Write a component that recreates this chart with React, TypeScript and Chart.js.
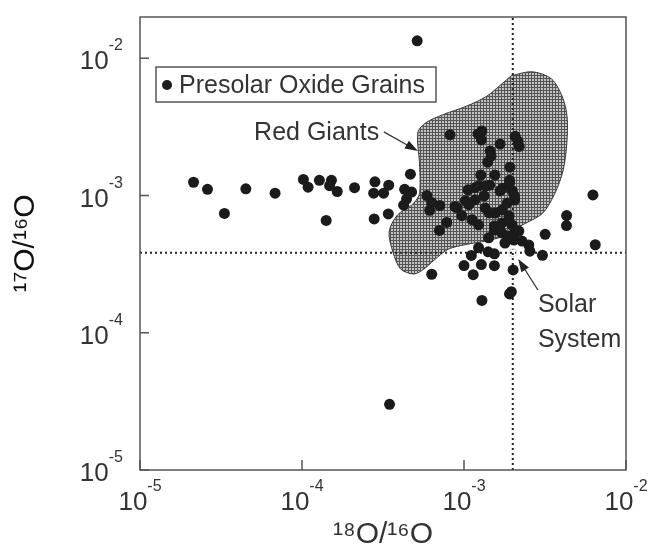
import React, { useEffect, useRef } from 'react';
import { Chart, registerables } from 'chart.js';

Chart.register(...registerables);

// ---- axis ranges & ticks ----
const X_MIN = 1e-5;
const X_MAX = 1e-2;
const Y_MIN = 1e-5;
const Y_MAX = 0.02;
const X_TICKS = [1e-5, 1e-4, 1e-3, 1e-2];
const Y_TICKS = [1e-5, 1e-4, 1e-3, 1e-2];
const TICK_BASE = '10';
const X_TICK_EXPONENTS = ['-5', '-4', '-3', '-2'];
const Y_TICK_EXPONENTS = ['-5', '-4', '-3', '-2'];

const X_TITLE = '¹⁸O/¹⁶O';
const Y_TITLE = '¹⁷O/¹⁶O';
const SERIES_LABEL = 'Presolar Oxide Grains';
const REGION_LABEL = 'Red Giants';
const SOLAR_LABEL_LINES = ['Solar', 'System'];

// ---- presolar oxide grains: 18O/16O and 17O/16O ----
const GRAIN_O18 = [
  2.14e-5, 2.61e-5, 3.32e-5, 4.5e-5, 6.82e-5, 1.02e-4, 1.09e-4, 1.28e-4, 1.52e-4, 1.48e-4,
  1.65e-4, 1.41e-4, 2.11e-4, 2.82e-4, 3.43e-4, 2.77e-4, 3.19e-4, 4.3e-4, 4.75e-4, 4.42e-4,
  4.24e-4, 4.67e-4, 2.79e-4, 3.41e-4, 5.14e-4, 3.47e-4, 6.32e-4, 8.2e-4, 1.22e-3, 1.28e-3,
  1.29e-3, 1.67e-3, 2.07e-3, 2.16e-3, 2.19e-3, 1.45e-3, 1.47e-3, 1.4e-3, 1.92e-3, 1.27e-3,
  1.55e-3, 1.91e-3, 1.24e-3, 1.44e-3, 1.73e-3, 1.91e-3, 1.99e-3, 2.05e-3, 5.9e-4, 6.32e-4,
  6.14e-4, 7.1e-4, 8.79e-4, 1.07e-3, 1.17e-3, 1.02e-3, 9.02e-4, 7.82e-4, 7.05e-4, 9.7e-4,
  1.12e-3, 1.23e-3, 1.43e-3, 1.56e-3, 1.72e-3, 1.9e-3, 1.54e-3, 1.71e-3, 1.89e-3, 1.79e-3,
  2.03e-3, 2.06e-3, 2.28e-3, 2.18e-3, 1.54e-3, 1.17e-3, 1.36e-3, 1.67e-3, 2.05e-3, 6.25e-3,
  4.3e-3, 4.29e-3, 3.17e-3, 6.46e-3, 2.51e-3, 2.55e-3, 3.05e-3, 1.23e-3, 1.41e-3, 1.54e-3,
  1.11e-3, 1.0e-3, 1.28e-3, 1.54e-3, 1.14e-3, 2.01e-3, 1.29e-3, 1.91e-3, 1.96e-3, 1.35e-3,
  1.85e-3, 1.42e-3, 1.72e-3, 1.98e-3, 1.33e-3, 1.06e-3,
];
const GRAIN_O17 = [
  1.25e-3, 1.11e-3, 7.4e-4, 1.12e-3, 1.04e-3, 1.31e-3, 1.15e-3, 1.29e-3, 1.29e-3, 1.18e-3,
  1.07e-3, 6.59e-4, 1.14e-3, 1.26e-3, 1.19e-3, 1.04e-3, 1.04e-3, 1.11e-3, 1.06e-3, 9.42e-4,
  8.51e-4, 1.43e-3, 6.76e-4, 7.34e-4, 1.34e-2, 3.01e-5, 2.67e-4, 2.77e-3, 2.81e-3, 2.54e-3,
  2.95e-3, 2.37e-3, 2.7e-3, 2.48e-3, 2.28e-3, 2.11e-3, 1.94e-3, 1.75e-3, 1.61e-3, 1.41e-3,
  1.41e-3, 1.29e-3, 1.18e-3, 1.19e-3, 1.13e-3, 1.23e-3, 1.08e-3, 9.27e-4, 1.0e-3, 8.91e-4,
  7.8e-4, 8.46e-4, 8.3e-4, 8.58e-4, 9.31e-4, 9.17e-4, 8.17e-4, 6.37e-4, 5.57e-4, 7.13e-4,
  6.67e-4, 6.12e-4, 7.48e-4, 7.46e-4, 7.85e-4, 7.08e-4, 5.61e-4, 5.34e-4, 5.07e-4, 4.51e-4,
  4.74e-4, 5.32e-4, 4.66e-4, 5.51e-4, 6.01e-4, 1.14e-3, 1.17e-3, 1.08e-3, 9.9e-4, 1.01e-3,
  7.15e-4, 6.04e-4, 5.22e-4, 4.38e-4, 4.36e-4, 3.93e-4, 3.67e-4, 4.17e-4, 3.89e-4, 3.76e-4,
  3.66e-4, 3.09e-4, 3.14e-4, 3.08e-4, 2.65e-4, 2.87e-4, 1.72e-4, 1.92e-4, 1.99e-4, 8.13e-4,
  8.81e-4, 4.92e-4, 6.31e-4, 6.1e-4, 9.93e-4, 1.1e-3,
];

// ---- red giant region outline ----
const RED_GIANT_O18 = [
  1.96e-3, 2.64e-3, 3.47e-3, 4.05e-3, 4.33e-3, 4.31e-3, 4.09e-3, 3.63e-3, 3.05e-3, 2.28e-3,
  1.84e-3, 1.38e-3, 1.03e-3, 7.98e-4, 6.53e-4, 5.65e-4, 4.91e-4, 4.06e-4, 3.64e-4, 3.45e-4,
  3.88e-4, 4.75e-4, 5.27e-4, 5.36e-4, 5.31e-4, 5.19e-4, 5.83e-4, 7.35e-4, 1.04e-3, 1.38e-3,
  1.72e-3, 1.96e-3,
];
const RED_GIANT_O17 = [
  7.48e-3, 7.98e-3, 7.08e-3, 5.23e-3, 3.74e-3, 2.38e-3, 1.52e-3, 1.03e-3, 7.41e-4, 6.08e-4,
  5.15e-4, 4.68e-4, 4.4e-4, 4.06e-4, 3.38e-4, 2.91e-4, 2.68e-4, 2.92e-4, 3.88e-4, 5.43e-4,
  7.21e-4, 8.51e-4, 1.0e-3, 1.25e-3, 1.74e-3, 2.88e-3, 3.4e-3, 3.87e-3, 4.49e-3, 5.29e-3,
  6.54e-3, 7.48e-3,
];

// ---- solar system composition ----
const SOLAR_O18 = 2.0e-3;
const SOLAR_O17 = 3.83e-4;

// ---- annotation anchors (data space) ----
const RED_GIANTS_TEXT_AT = { x: 5.06e-5, y: 2.54e-3 };
const RED_GIANTS_ARROW = { from: { x: 3.2e-4, y: 2.91e-3 }, to: { x: 5.2e-4, y: 2.11e-3 } };
const SOLAR_TEXT_AT = [{ x: 2.86e-3, y: 1.42e-4 }, { x: 2.86e-3, y: 7.87e-5 }];
const SOLAR_ARROW = { from: { x: 2.86e-3, y: 2.05e-4 }, to: { x: 2.16e-3, y: 3.45e-4 } };

const FONT = "'Liberation Sans', Arial, 'DejaVu Sans', sans-serif";
const TEXT_COLOR = '#333333';
const DOT_COLOR = '#1b1b1b';

function drawArrow(ctx: CanvasRenderingContext2D, x1: number, y1: number, x2: number, y2: number) {
  const a = Math.atan2(y2 - y1, x2 - x1);
  const len = 13;
  const hw = 4.5;
  ctx.beginPath();
  ctx.moveTo(x1, y1);
  ctx.lineTo(x2 - Math.cos(a) * len * 0.8, y2 - Math.sin(a) * len * 0.8);
  ctx.stroke();
  ctx.beginPath();
  ctx.moveTo(x2, y2);
  ctx.lineTo(x2 - Math.cos(a) * len - Math.sin(a) * hw, y2 - Math.sin(a) * len + Math.cos(a) * hw);
  ctx.lineTo(x2 - Math.cos(a) * len + Math.sin(a) * hw, y2 - Math.sin(a) * len - Math.cos(a) * hw);
  ctx.closePath();
  ctx.fill();
}

const BASE_FONT = `26px ${FONT}`;
const EXP_FONT = `16px ${FONT}`;

const decorPlugin = {
  id: 'decor',
  afterDraw(chart: any) {
    const { ctx, chartArea, scales } = chart;
    const xs = scales.x;
    const ys = scales.y;
    const { left, top, right, bottom } = chartArea;
    ctx.save();
    // frame
    ctx.strokeStyle = '#555';
    ctx.lineWidth = 1.5;
    ctx.strokeRect(left, top, right - left, bottom - top);
    // inward tick marks
    ctx.beginPath();
    X_TICKS.forEach((v) => {
      const px = xs.getPixelForValue(v);
      ctx.moveTo(px, bottom);
      ctx.lineTo(px, bottom - 10);
    });
    Y_TICKS.forEach((v) => {
      const py = ys.getPixelForValue(v);
      ctx.moveTo(left, py);
      ctx.lineTo(left + 9, py);
    });
    ctx.stroke();

    // tick labels: 10 with superscript exponent
    ctx.fillStyle = TEXT_COLOR;
    ctx.textAlign = 'left';
    ctx.textBaseline = 'alphabetic';
    ctx.font = BASE_FONT;
    const wb = ctx.measureText(TICK_BASE).width;
    X_TICKS.forEach((v, i) => {
      const px = xs.getPixelForValue(v);
      ctx.font = EXP_FONT;
      const we = ctx.measureText(X_TICK_EXPONENTS[i]).width;
      const x0 = px - (wb + we) / 2;
      ctx.font = BASE_FONT;
      ctx.fillText(TICK_BASE, x0, bottom + 40);
      ctx.font = EXP_FONT;
      ctx.fillText(X_TICK_EXPONENTS[i], x0 + wb, bottom + 21);
    });
    Y_TICKS.forEach((v, i) => {
      const py = ys.getPixelForValue(v);
      ctx.font = EXP_FONT;
      const we = ctx.measureText(Y_TICK_EXPONENTS[i]).width;
      const x0 = left - 17 - (wb + we);
      ctx.font = BASE_FONT;
      ctx.fillText(TICK_BASE, x0, py + 11);
      ctx.font = EXP_FONT;
      ctx.fillText(Y_TICK_EXPONENTS[i], x0 + wb, py - 8);
    });

    // legend box
    const lx = left + 16;
    const ly = top + 50;
    ctx.strokeStyle = '#555';
    ctx.lineWidth = 1.5;
    ctx.strokeRect(lx, ly, 280, 35);
    ctx.fillStyle = DOT_COLOR;
    ctx.beginPath();
    ctx.arc(lx + 11, ly + 18, 5, 0, Math.PI * 2);
    ctx.fill();
    ctx.fillStyle = TEXT_COLOR;
    ctx.font = `25px ${FONT}`;
    ctx.fillText(chart.data.datasets[0].label, lx + 23, ly + 26);

    // Red Giants label + arrow
    ctx.fillText(REGION_LABEL, xs.getPixelForValue(RED_GIANTS_TEXT_AT.x), ys.getPixelForValue(RED_GIANTS_TEXT_AT.y));
    ctx.strokeStyle = '#333';
    ctx.fillStyle = '#222';
    ctx.lineWidth = 1.3;
    drawArrow(
      ctx,
      xs.getPixelForValue(RED_GIANTS_ARROW.from.x), ys.getPixelForValue(RED_GIANTS_ARROW.from.y),
      xs.getPixelForValue(RED_GIANTS_ARROW.to.x), ys.getPixelForValue(RED_GIANTS_ARROW.to.y)
    );

    // Solar System label + arrow
    ctx.fillStyle = TEXT_COLOR;
    SOLAR_LABEL_LINES.forEach((t, i) => {
      ctx.fillText(t, xs.getPixelForValue(SOLAR_TEXT_AT[i].x), ys.getPixelForValue(SOLAR_TEXT_AT[i].y));
    });
    ctx.fillStyle = '#222';
    drawArrow(
      ctx,
      xs.getPixelForValue(SOLAR_ARROW.from.x), ys.getPixelForValue(SOLAR_ARROW.from.y),
      xs.getPixelForValue(SOLAR_ARROW.to.x), ys.getPixelForValue(SOLAR_ARROW.to.y)
    );
    ctx.restore();
  },
};

function makeHatch(target: HTMLCanvasElement): CanvasPattern | string {
  const c = document.createElement('canvas');
  c.width = 3;
  c.height = 3;
  const g = c.getContext('2d');
  const tctx = target.getContext('2d');
  if (!g || !tctx) return '#909090';
  g.fillStyle = '#c2c2c2';
  g.fillRect(0, 0, 3, 3);
  g.fillStyle = '#555555';
  g.fillRect(0, 0, 3, 1);
  g.fillRect(0, 0, 1, 3);
  return tctx.createPattern(c, 'repeat') || '#909090';
}

export default function App() {
  const ref = useRef<HTMLCanvasElement>(null);

  useEffect(() => {
    const canvas = ref.current;
    if (!canvas) return;
    const hatch = makeHatch(canvas);

    const chart = new Chart(canvas, {
      type: 'scatter',
      data: {
        datasets: [
          {
            label: SERIES_LABEL,
            data: GRAIN_O18.map((x, i) => ({ x, y: GRAIN_O17[i] })),
            backgroundColor: DOT_COLOR,
            borderColor: DOT_COLOR,
            borderWidth: 0,
            pointRadius: 5.5,
            order: 0,
          },
          {
            label: 'Solar System',
            data: [{ x: SOLAR_O18, y: SOLAR_O17 }],
            backgroundColor: 'rgba(255,255,255,0)',
            borderColor: '#e4e4e4',
            borderWidth: 1.5,
            pointRadius: 4,
            order: -1,
          },
          {
            label: 'solar 17O',
            data: [{ x: X_MIN, y: SOLAR_O17 }, { x: X_MAX, y: SOLAR_O17 }],
            showLine: true,
            borderColor: '#222',
            borderWidth: 2,
            borderDash: [2, 3],
            pointRadius: 0,
            fill: false,
            order: 1,
          },
          {
            label: 'solar 18O',
            data: [{ x: SOLAR_O18, y: Y_MIN }, { x: SOLAR_O18, y: Y_MAX }],
            showLine: true,
            borderColor: '#222',
            borderWidth: 2,
            borderDash: [2, 3],
            pointRadius: 0,
            fill: false,
            order: 1,
          },
          {
            label: REGION_LABEL,
            data: RED_GIANT_O18.map((x, i) => ({ x, y: RED_GIANT_O17[i] })),
            showLine: true,
            fill: 'shape',
            backgroundColor: hatch as any,
            borderColor: '#3a3a3a',
            borderWidth: 1,
            pointRadius: 0,
            tension: 0.3,
            order: 3,
          },
        ],
      },
      options: {
        animation: false,
        responsive: false,
        events: [],
        layout: { padding: { left: 0, top: 17, right: 25, bottom: 0 } },
        plugins: {
          legend: { display: false },
          tooltip: { enabled: false },
        },
        scales: {
          x: {
            type: 'logarithmic',
            position: 'bottom',
            min: X_MIN,
            max: X_MAX,
            afterBuildTicks: (s: any) => {
              s.ticks = X_TICKS.map((v) => ({ value: v }));
            },
            afterFit: (s: any) => {
              s.height = 83;
              s.paddingLeft = 0;
              s.paddingRight = 0;
              s.paddingTop = 0;
              s.paddingBottom = 0;
            },
            grid: { display: false, drawTicks: false },
            border: { display: false },
            ticks: { display: false },
            title: {
              display: true,
              text: X_TITLE,
              color: TEXT_COLOR,
              font: { family: FONT, size: 30 },
              padding: { top: 0, bottom: 0 },
            },
          },
          y: {
            type: 'logarithmic',
            position: 'left',
            min: Y_MIN,
            max: Y_MAX,
            afterBuildTicks: (s: any) => {
              s.ticks = Y_TICKS.map((v) => ({ value: v }));
            },
            afterFit: (s: any) => {
              s.width = 140;
              s.paddingLeft = 0;
              s.paddingRight = 0;
              s.paddingTop = 0;
              s.paddingBottom = 0;
            },
            grid: { display: false, drawTicks: false },
            border: { display: false },
            ticks: { display: false },
            title: {
              display: true,
              text: Y_TITLE,
              color: '#111',
              font: { family: FONT, size: 30 },
              padding: { top: 8, bottom: 0 },
            },
          },
        },
      },
      plugins: [decorPlugin],
    } as any);

    return () => chart.destroy();
  }, []);

  return (
    <div style={{ position: 'absolute', left: 0, top: 0, width: 651, height: 553, background: '#fff' }}>
      <canvas ref={ref} width={651} height={553} style={{ display: 'block' }} />
    </div>
  );
}
